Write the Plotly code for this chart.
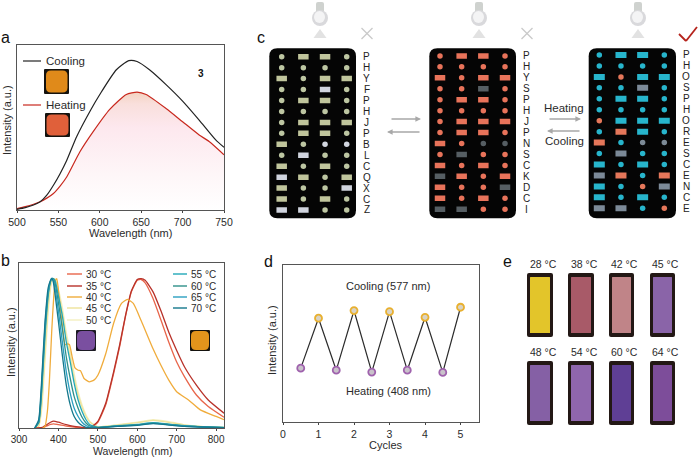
import plotly.graph_objects as go

W, H = 698, 457
FONT = "Liberation Sans"
INK = "#2b2b2b"

# ---------- panel a ----------
a_wl_cool = [500, 510, 520, 528, 536, 544, 552, 560, 572, 589, 600, 620, 635, 645, 660, 680, 700, 720, 740, 750]
a_cool = [.004, .014, .03, .05, .09, .15, .22, .30, .444, .606, .70, .85, .905, .90, .85, .76, .66, .545, .425, .38]
a_wl_heat = [500, 510, 520, 528, 536, 544, 552, 560, 576, 592, 612, 632, 645, 656, 680, 700, 720, 732, 750]
a_heat = [.008, .02, .035, .05, .072, .10, .145, .20, .353, .475, .61, .70, .715, .70, .615, .535, .455, .415, .335]
a_ticks = [500, 550, 600, 650, 700, 750]

# ---------- panel b ----------
b_ticks = [300, 400, 500, 600, 700, 800]
b_wl_red = [340, 350, 360, 370, 380, 388, 400, 420, 440, 460, 480, 500, 520, 540, 555, 570, 585, 600, 610, 620, 640, 660, 680, 700, 720, 750, 780, 820]
b_30 = [0, 0, .002, .012, .022, .025, .02, .012, .006, .002, .001, .035, .14, .33, .49, .675, .825, .895, .90, .88, .785, .655, .52, .40, .31, .20, .13, .065]
b_35 = [0, 0, .004, .02, .035, .042, .035, .02, .01, .004, .002, .04, .15, .34, .50, .68, .83, .90, .905, .895, .825, .71, .58, .47, .37, .26, .17, .09]
b_wl_40 = [360, 366, 372, 377, 383, 388, 392, 396, 402, 410, 417, 423, 428, 435, 442, 450, 456, 465, 478, 490, 500, 520, 540, 560, 575, 590, 610, 640, 660, 680, 700, 730, 760, 800, 820]
b_40 = [0, .01, .10, .28, .586, .79, .89, .905, .79, .62, .505, .51, .505, .43, .364, .35, .347, .30, .28, .29, .32, .45, .635, .755, .78, .755, .65, .48, .38, .29, .22, .17, .11, .07, .05]
b_wl_blue = [340, 350, 357, 366, 374, 379, 383, 387, 392, 400, 410, 420, 430, 440, 450, 460, 470, 480, 500, 550, 600, 640, 680, 720, 760, 820]
b_45 = [0, .012, .12, .45, .74, .84, .895, .905, .90, .82, .70, .55, .43, .30, .20, .125, .07, .035, .007, .018, .032, .046, .034, .018, .009, .003]
b_50 = [0, .01, .10, .40, .70, .82, .89, .905, .90, .84, .73, .58, .46, .33, .22, .14, .08, .04, .008, .02, .035, .05, .038, .02, .01, .004]
b_55 = [0, .03, .20, .56, .80, .88, .905, .905, .89, .80, .68, .52, .40, .27, .17, .10, .05, .02, .004, .014, .022, .032, .024, .014, .008, .003]
b_60 = [0, .035, .22, .59, .815, .88, .905, .905, .87, .76, .60, .43, .30, .19, .12, .065, .03, .012, .003, .012, .02, .03, .022, .012, .007, .002]
b_65 = [0, .04, .24, .62, .83, .885, .907, .90, .84, .71, .52, .34, .21, .12, .07, .035, .015, .005, .002, .012, .018, .028, .02, .012, .006, .002]
b_70 = [0, .05, .27, .646, .85, .89, .907, .885, .80, .646, .44, .26, .14, .07, .035, .015, .004, .001, .002, .01, .016, .026, .018, .01, .006, .002]
b_labels = ["30 °C", "35 °C", "40 °C", "45 °C", "50 °C", "55 °C", "60 °C", "65 °C", "70 °C"]
b_colors = ["#e8654a", "#b8322a", "#f0ac3c", "#eee39a", "#f4efc0", "#22a8b8", "#2f9088", "#2a9fc0", "#14788c"]

# ---------- panel c ----------
# c circle, b bar; upper-case letters use the second colour, o / r use the third colour
c_grid1 = ["cbbc", "cccc", "bcbb", "ccBc", "cbbc", "cccc", "cbbb", "cbbc", "bcCC", "cBcc", "bcbc", "Bbcb", "bccB", "bcbc", "BBcc"]
c_grid2 = list(c_grid1)
c_grid3 = ["cbbc", "cccc", "bobb", "ccBc", "cbbc", "cccc", "obbb", "crbc", "rcCC", "cBcc", "bcbc", "Brcr", "bcoB", "bcbc", "BBco"]
c_letters1 = list("PHYFPHJPBLCQXCZ")
c_letters2 = list("PHYSPHJPNSCKDCI")
c_letters3 = list("PHOSPHORESCENCE")

# ---------- panel d ----------
d_cycles = [.5, 1, 1.5, 2, 2.5, 3, 3.5, 4, 4.5, 5]
d_values = [.343, .661, .33, .71, .318, .703, .33, .667, .316, .731]
d_ticks = [0, 1, 2, 3, 4, 5]

# ---------- panel e ----------
e_labels = ["28 °C", "38 °C", "42 °C", "45 °C", "48 °C", "54 °C", "60 °C", "64 °C"]
e_colors = ["#e3c52a", "#a85a68", "#c08488", "#8a64a8", "#8560a5", "#8f66ad", "#5f3f95", "#7d4d9a"]


def px(x):
    return x / W


def py(y):
    return 1 - y / H


def dom_x(a, b):
    return [px(a), px(b)]


def dom_y(top, bottom):
    return [py(bottom), py(top)]


def rrect(x0, y0, x1, y1, r):
    X0, X1 = px(x0), px(x1)
    Y0, Y1 = py(y0), py(y1)
    rx, ry = r / W, r / H
    return (f"M{X0+rx},{Y0} L{X1-rx},{Y0} Q{X1},{Y0} {X1},{Y0-ry} L{X1},{Y1+ry} Q{X1},{Y1} {X1-rx},{Y1} "
            f"L{X0+rx},{Y1} Q{X0},{Y1} {X0},{Y1+ry} L{X0},{Y0-ry} Q{X0},{Y0} {X0+rx},{Y0} Z")


shapes, notes = [], []


def shape_rr(x0, y0, x1, y1, r, color, layer="above"):
    shapes.append(dict(type="path", xref="paper", yref="paper", path=rrect(x0, y0, x1, y1, r),
                       fillcolor=color, line=dict(width=0), layer=layer))


def seg(x0, y0, x1, y1, color, width):
    shapes.append(dict(type="line", xref="paper", yref="paper", x0=px(x0), y0=py(y0), x1=px(x1), y1=py(y1),
                       line=dict(color=color, width=width)))


def text(x, y, s, size=11, color=INK, anchor="center", bold=False, angle=0):
    notes.append(dict(xref="paper", yref="paper", x=px(x), y=py(y), text=f"<b>{s}</b>" if bold else s,
                      showarrow=False, xanchor=anchor, yanchor="middle", textangle=angle,
                      font=dict(family=FONT, size=size, color=color)))


fig = go.Figure()

axis_common = dict(showgrid=False, zeroline=False, showline=True, mirror=True, linecolor="#555555", linewidth=1,
                   ticks="outside", ticklen=2, tickwidth=1, tickcolor="#444444", automargin=False,
                   tickfont=dict(family=FONT, size=10.5, color=INK))

# panel a
fig.add_trace(go.Scatter(x=a_wl_heat, y=a_heat, mode="lines", xaxis="x", yaxis="y", showlegend=False,
                         line=dict(color="#c8281e", width=1.2, shape="spline", smoothing=.6),
                         fill="tozeroy",
                         fillgradient=dict(type="vertical", colorscale=[[0, "#ffffff"], [.3, "#fef6f8"], [.7, "#fde8ee"], [.9, "#f9dfdc"], [1, "#f3d3c0"]], start=0, stop=.715)))
fig.add_trace(go.Scatter(x=a_wl_cool, y=a_cool, mode="lines", xaxis="x", yaxis="y", showlegend=False,
                         line=dict(color="#222222", width=1.2, shape="spline", smoothing=.6)))
# panel b
b_series = [(b_wl_blue, b_50, 4), (b_wl_blue, b_45, 3), (b_wl_red, b_30, 0), (b_wl_red, b_35, 1), (b_wl_40, b_40, 2),
            (b_wl_blue, b_55, 5), (b_wl_blue, b_60, 6), (b_wl_blue, b_65, 7), (b_wl_blue, b_70, 8)]
for xs, ys, i in b_series:
    fig.add_trace(go.Scatter(x=xs, y=ys, mode="lines", xaxis="x2", yaxis="y2", name=b_labels[i], showlegend=False,
                             line=dict(color=b_colors[i], width=1.3, shape="spline", smoothing=.5)))
# panel d
fig.add_trace(go.Scatter(x=d_cycles, y=d_values, mode="lines", xaxis="x3", yaxis="y3", showlegend=False,
                         line=dict(color="#2b2b2b", width=1.2)))
fig.add_trace(go.Scatter(x=d_cycles[0::2], y=d_values[0::2], mode="markers", xaxis="x3", yaxis="y3", showlegend=False,
                         marker=dict(size=7, color="#c9c2ca", line=dict(color="#9f62ad", width=1.8))))
fig.add_trace(go.Scatter(x=d_cycles[1::2], y=d_values[1::2], mode="markers", xaxis="x3", yaxis="y3", showlegend=False,
                         marker=dict(size=7, color="#d9d3c4", line=dict(color="#e8b030", width=1.8))))

# panel c grids
GRIDS = [
    dict(rows=c_grid1, letters=c_letters1, x0=281.7, panel=(269.3, 356), lx=366.7, y0=56.7,
         cols={"c": "#bdc6a2", "b": "#c0c59c", "C": "#d3d7e0", "B": "#d0d4de"}, bar=(10.5, 5.5)),
    dict(rows=c_grid2, letters=c_letters2, x0=440, panel=(429.3, 516), lx=526.7, y0=55.9,
         cols={"c": "#e8735a", "b": "#e8735a", "C": "#565e63", "B": "#565e63"}, bar=(10.5, 5.5)),
    dict(rows=c_grid3, letters=c_letters3, x0=599.3, panel=(588.7, 676), lx=686, y0=55,
         cols={"c": "#27b5cc", "b": "#27b5cc", "C": "#7c8a96", "B": "#7c8a98", "o": "#e5775a", "r": "#e5775a"}, bar=(11, 6)),
]
STEP_X, STEP_Y = 21.67, 10.95
PANEL_TOP, PANEL_BOT = 48.3, 218.3
extra_axes = {}
for n, g in enumerate(GRIDS):
    ax = 4 + n
    pl, pr = g["panel"]
    shape_rr(pl, PANEL_TOP, pr, PANEL_BOT, 8, "#050505", layer="below")
    for r, row in enumerate(g["rows"]):
        text(g["lx"], g["y0"] + r * STEP_Y, g["letters"][r], size=10, color="#222222")
    groups = {}
    for r, row in enumerate(g["rows"]):
        for c, k in enumerate(row):
            groups.setdefault(k, []).append((c, r))
    half = g["bar"][0] / 2 / STEP_X
    for k, cells in groups.items():
        if k in "bBr":
            xs, ys = [], []
            for c, r in cells:
                xs += [c - half, c + half, None]
                ys += [r, r, None]
            fig.add_trace(go.Scatter(x=xs, y=ys, mode="lines", xaxis=f"x{ax}", yaxis=f"y{ax}", showlegend=False,
                                     line=dict(color=g["cols"][k], width=g["bar"][1])))
        else:
            fig.add_trace(go.Scatter(x=[c for c, r in cells], y=[r for c, r in cells], mode="markers",
                                     xaxis=f"x{ax}", yaxis=f"y{ax}", showlegend=False,
                                     marker=dict(size=5.5, color=g["cols"][k])))
    extra_axes[f"xaxis{ax}"] = dict(domain=dom_x(pl, pr), range=[(pl - g["x0"]) / STEP_X, (pr - g["x0"]) / STEP_X],
                                    visible=False, anchor=f"y{ax}", fixedrange=True, automargin=False)
    extra_axes[f"yaxis{ax}"] = dict(domain=dom_y(PANEL_TOP, PANEL_BOT),
                                    range=[(PANEL_BOT - g["y0"]) / STEP_Y, (PANEL_TOP - g["y0"]) / STEP_Y],
                                    visible=False, anchor=f"x{ax}", fixedrange=True, automargin=False)

# bulbs
for bx in (320, 479, 638):
    shapes.append(dict(type="path", xref="paper", yref="paper", line=dict(width=0), fillcolor="#e2e2e2",
                       path=f"M{px(bx)},{py(29)} L{px(bx+6.5)},{py(38)} L{px(bx-6.5)},{py(38)} Z"))
    shape_rr(bx - 4, 2, bx + 4, 13, 2, "#cfd2cf")
    shapes.append(dict(type="circle", xref="paper", yref="paper", x0=px(bx - 8), x1=px(bx + 8), y0=py(10), y1=py(26),
                       fillcolor="#d9d9dc", line=dict(width=0)))
    shapes.append(dict(type="circle", xref="paper", yref="paper", x0=px(bx - 6), x1=px(bx + 5), y0=py(11), y1=py(23),
                       fillcolor="#f4f4f5", line=dict(width=0)))
# crosses and check
for cx in (367, 527):
    seg(cx - 5.5, 28, cx + 5.5, 39, "#c9c9c9", 1.3)
    seg(cx - 5.5, 39, cx + 5.5, 28, "#c9c9c9", 1.3)
seg(679, 34, 686, 41, "#b5231c", 1.8)
seg(686, 41, 697, 27, "#b5231c", 1.8)

# arrows between grids
for x0, x1, y0 in ((390, 421, 119), (421, 387, 132), (548, 581, 119), (581, 547, 131)):
    notes.append(dict(xref="paper", yref="paper", axref="pixel", ayref="pixel", x=px(x1), y=py(y0), ax=x0 - x1, ay=0,
                      text="", showarrow=True, arrowhead=2, arrowsize=.8, arrowwidth=1.4, arrowcolor="#a8a8a8"))
text(564, 108, "Heating", 11.5)
text(564, 141, "Cooling", 11.5)

# axis titles
text(130, 233, "Wavelength (nm)", 11)
text(133, 450.5, "Wavelength (nm)", 10.5)
text(386, 444.5, "Cycles", 11)
text(7, 120, "Intensity (a.u.)", 11, angle=-90)
text(11, 342, "Intensity (a.u.)", 11, angle=-90)
text(272, 340, "Intensity (a.u.)", 11, angle=-90)

# panel a overlays
seg(23, 61, 41, 61, "#222222", 1.2)
text(44, 61, "Cooling", 11.5, anchor="left")
seg(23, 105, 41, 105, "#c8281e", 1.2)
text(44, 105, "Heating", 11.5, anchor="left")
text(201, 73, "3", 10, bold=True, color="#111111")
shape_rr(44, 69, 69, 94, 1, "#14120e")
shape_rr(46, 70.5, 67.5, 92.5, 5, "#e08a1a")
shape_rr(45, 113, 70, 137, 1, "#14120e")
shape_rr(46.5, 114.5, 68.5, 135.5, 5, "#e0603a")

# panel b overlays
b_leg_y = [274, 286, 297, 308, 320, 274, 286, 297, 308]
for i, lab in enumerate(b_labels):
    lx0, lx1, tx = (67, 82, 84) if i < 5 else (173, 187, 189)
    seg(lx0, b_leg_y[i], lx1, b_leg_y[i], b_colors[i], 1.4)
    text(tx, b_leg_y[i], lab, 10, anchor="left")
shape_rr(76, 330, 96, 351, 1, "#1c1a24")
shape_rr(77, 331, 95, 350, 5, "#7a4fa0")
shape_rr(190, 330, 210, 351, 1, "#14120e")
shape_rr(191, 331, 209, 350, 5, "#e2941c")

# panel d texts
text(388, 286, "Cooling (577 nm)", 11)
text(388, 391, "Heating (408 nm)", 11)

# panel e
e_x = [(527, 553), (568, 594), (609, 634), (650, 675)]
e_y = [(273, 337), (361, 425)]
for i, (lab, col) in enumerate(zip(e_labels, e_colors)):
    x0, x1 = e_x[i % 4]
    y0, y1 = e_y[i // 4]
    shape_rr(x0, y0, x1, y1, 2, "#231815")
    shape_rr(x0 + 3, y0 + 4, x1 - 3, y1 - 4, 0.5, col)
    text((x0 + x1) / 2 + 3, y0 - 9, lab, 10.5)

# panel letters
for lx, ly, s in ((5, 37, "a"), (5, 260, "b"), (261, 37, "c"), (268, 261, "d"), (507, 261, "e")):
    text(lx, ly, s, 16, color="#111111")

layout_axes = dict(
    xaxis=dict(domain=dom_x(17, 224), range=[500, 750], tickvals=a_ticks, anchor="y", **axis_common),
    yaxis=dict(domain=dom_y(45, 210), range=[0, 1], showticklabels=False, anchor="x", **{**axis_common, "ticks": ""}),
    xaxis2=dict(domain=dom_x(19, 224), range=[300, 820], tickvals=b_ticks, anchor="y2",
                **{**axis_common, "tickfont": dict(family=FONT, size=10, color=INK)}),
    yaxis2=dict(domain=dom_y(263, 428), range=[0, 1], showticklabels=False, anchor="x2", **{**axis_common, "ticks": ""}),
    xaxis3=dict(domain=dom_x(283, 479), range=[0, 5.52], tickvals=d_ticks, anchor="y3", **axis_common),
    yaxis3=dict(domain=dom_y(265, 422), range=[0, 1], showticklabels=False, anchor="x3", **{**axis_common, "ticks": ""}),
)

fig.update_layout(width=W, height=H, margin=dict(l=0, r=0, t=0, b=0), autosize=False,
                  paper_bgcolor="white", plot_bgcolor="rgba(0,0,0,0)",
                  font=dict(family=FONT, color=INK), shapes=shapes, annotations=notes,
                  **layout_axes, **extra_axes)

fig.write_html("out.html", config={"displayModeBar": False},
               post_script="document.body.style.margin='0';document.documentElement.style.overflow='hidden';")
